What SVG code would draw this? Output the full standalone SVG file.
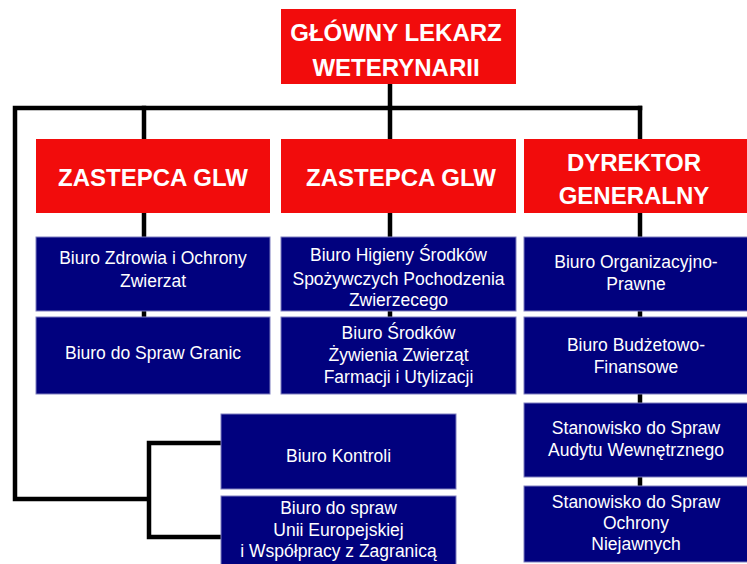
<svg xmlns="http://www.w3.org/2000/svg" width="747" height="564" viewBox="0 0 747 564">
<style>
.red{fill:#f20c0c}
.blue{fill:#01017e;stroke:#7f7fbf;stroke-width:1}
.h{font-family:"Liberation Sans",Arial,sans-serif;font-weight:bold;font-size:24px;fill:#fff;text-anchor:middle}
.t{font-family:"Liberation Sans",Arial,sans-serif;font-size:17.5px;fill:#fff;text-anchor:middle}
.c{fill:none;stroke:#000;stroke-width:4.5;stroke-linecap:square;stroke-linejoin:miter}
</style>
<rect width="747" height="564" fill="#fff"/>
<g id="connectors">
<path class="c" d="M390 84V108M15 108H640M15 108V499H149M149 443V537M149 443H221M149 537H221"/>
<path class="c" d="M144 108V139M390 108V139M640 108V139"/>
<path class="c" d="M144 213V237M390 213V237M640 213V237M144 311V317M390 311V317M640 311V317M640 394V403M640 477V486"/>
</g>
<g id="glw"><rect class="red" x="281" y="9" width="235" height="75"/>
<text class="h" x="396" y="41">GŁÓWNY LEKARZ</text><text class="h" x="396" y="76">WETERYNARII</text></g>
<g id="zastepca1"><rect class="red" x="36" y="139" width="234" height="74"/><text class="h" x="153" y="185.5">ZASTEPCA GLW</text></g>
<g id="zastepca2"><rect class="red" x="281" y="139" width="235" height="74"/><text class="h" x="401" y="185.5">ZASTEPCA GLW</text></g>
<g id="dyrektor"><rect class="red" x="524" y="139" width="230" height="74"/><text class="h" x="634" y="170.5">DYREKTOR</text><text class="h" x="634" y="203.5">GENERALNY</text></g>
<g id="b1r1"><rect class="blue" x="36" y="237" width="234" height="74"/><text class="t" x="153" y="264">Biuro Zdrowia i Ochrony</text><text class="t" x="153" y="287">Zwierzat</text></g>
<g id="b2r1"><rect class="blue" x="281" y="237" width="235" height="74"/><text class="t" x="398.5" y="261">Biuro Higieny Środków</text><text class="t" x="398.5" y="285">Spożywczych Pochodzenia</text><text class="t" x="398.5" y="306">Zwierzecego</text></g>
<g id="b3r1"><rect class="blue" x="524" y="237" width="230" height="74"/><text class="t" x="636" y="268">Biuro Organizacyjno-</text><text class="t" x="636" y="290">Prawne</text></g>
<g id="b1r2"><rect class="blue" x="36" y="317" width="234" height="77"/><text class="t" x="153" y="359">Biuro do Spraw Granic</text></g>
<g id="b2r2"><rect class="blue" x="281" y="317" width="235" height="77"/><text class="t" x="398.5" y="339">Biuro Środków</text><text class="t" x="398.5" y="361">Żywienia Zwierząt</text><text class="t" x="398.5" y="383">Farmacji i Utylizacji</text></g>
<g id="b3r2"><rect class="blue" x="524" y="317" width="230" height="77"/><text class="t" x="636" y="351">Biuro Budżetowo-</text><text class="t" x="636" y="373">Finansowe</text></g>
<g id="audyt"><rect class="blue" x="524" y="403" width="230" height="74"/><text class="t" x="636" y="434">Stanowisko do Spraw</text><text class="t" x="636" y="456">Audytu Wewnętrznego</text></g>
<g id="niejawne"><rect class="blue" x="524" y="486" width="230" height="76"/><text class="t" x="636" y="508">Stanowisko do Spraw</text><text class="t" x="636" y="529">Ochrony</text><text class="t" x="636" y="550">Niejawnych</text></g>
<g id="kontrola"><rect class="blue" x="221" y="414" width="235" height="75"/><text class="t" x="338.5" y="462">Biuro Kontroli</text></g>
<g id="ue"><rect class="blue" x="221" y="496" width="235" height="75"/><text class="t" x="338.5" y="514">Biuro do spraw</text><text class="t" x="338.5" y="536">Unii Europejskiej</text><text class="t" x="338.5" y="557">i Współpracy z Zagranicą</text></g>
</svg>
